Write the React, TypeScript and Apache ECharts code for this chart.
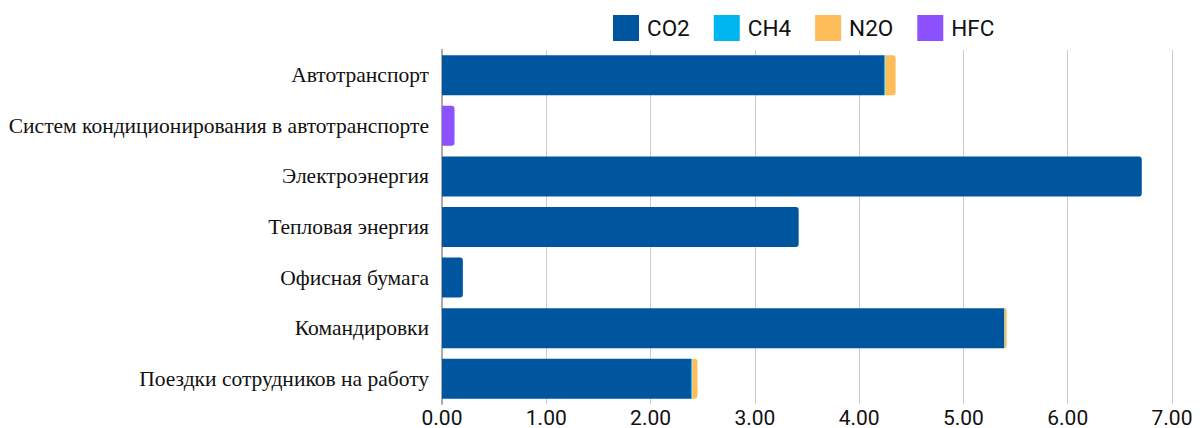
import React, { useEffect, useRef } from "react";
import * as echarts from "echarts";

const categories = [
  "Автотранспорт",
  "Систем кондиционирования в автотранспорте",
  "Электроэнергия",
  "Тепловая энергия",
  "Офисная бумага",
  "Командировки",
  "Поездки сотрудников на работу",
];
const seriesNames = ["CO2", "CH4", "N2O", "HFC"];
const co2 = [4.24, 0, 6.71, 3.42, 0.2, 5.39, 2.39];
const ch4 = [0.01, 0, 0, 0, 0, 0.005, 0.01];
const n2o = [0.1, 0, 0, 0, 0, 0.02, 0.05];
const hfc = [0, 0.12, 0, 0, 0, 0, 0];
const colors = ["#00559f", "#00b6f0", "#ffbd59", "#8c52ff"];
const xTicks = { min: 0, max: 7, interval: 1 };

export default function App() {
  const ref = useRef<HTMLDivElement>(null);
  useEffect(() => {
    if (!ref.current) return;
    const chart = echarts.init(ref.current, null, { renderer: "svg" });
    const all = [co2, ch4, n2o, hfc];
    const lastIdx = categories.map((_, i) => {
      let l = -1;
      all.forEach((arr, s) => {
        if (arr[i] > 0) l = s;
      });
      return l;
    });
    const series = all.map((arr, s) => ({
      name: seriesNames[s],
      type: "bar",
      stack: "total",
      barWidth: 40,
      itemStyle: { color: colors[s] },
      data: arr.map((v, i) => ({
        value: v,
        itemStyle: lastIdx[i] === s ? { borderRadius: [0, 3, 3, 0] } : undefined,
      })),
    }));
    chart.setOption({
      animation: false,
      legend: {
        top: 10,
        left: 608,
        itemWidth: 26,
        itemHeight: 26,
        itemGap: 24,
        icon: "rect",
        textStyle: { fontFamily: "Roboto", fontSize: 22.5, color: "#111", padding: [0, 0, 0, 3] },
        data: seriesNames,
      },
      grid: {
        left: 442,
        right: 28,
        top: 50,
        bottom: 24,
        containLabel: false,
        outerBoundsMode: "none",
      },
      xAxis: {
        type: "value",
        min: xTicks.min,
        max: xTicks.max,
        interval: xTicks.interval,
        axisLine: { show: false },
        axisTick: { show: false },
        splitLine: { lineStyle: { color: "#cccccc", width: 1 } },
        axisLabel: {
          formatter: (v: number) => v.toFixed(2),
          fontFamily: "Roboto",
          fontSize: 21,
          color: "#111",
          margin: 3,
        },
      },
      yAxis: {
        type: "category",
        inverse: true,
        data: categories,
        axisLine: { show: true, lineStyle: { color: "#aaaaaa", width: 2 } },
        axisTick: { show: false },
        axisLabel: {
          fontFamily: "Liberation Serif",
          fontSize: 21.5,
          color: "#111",
          margin: 13,
        },
      },
      series,
    });
    return () => chart.dispose();
  }, []);
  return (
    <div
      ref={ref}
      style={{ position: "absolute", left: 0, top: 0, width: 1200, height: 428 }}
    />
  );
}
